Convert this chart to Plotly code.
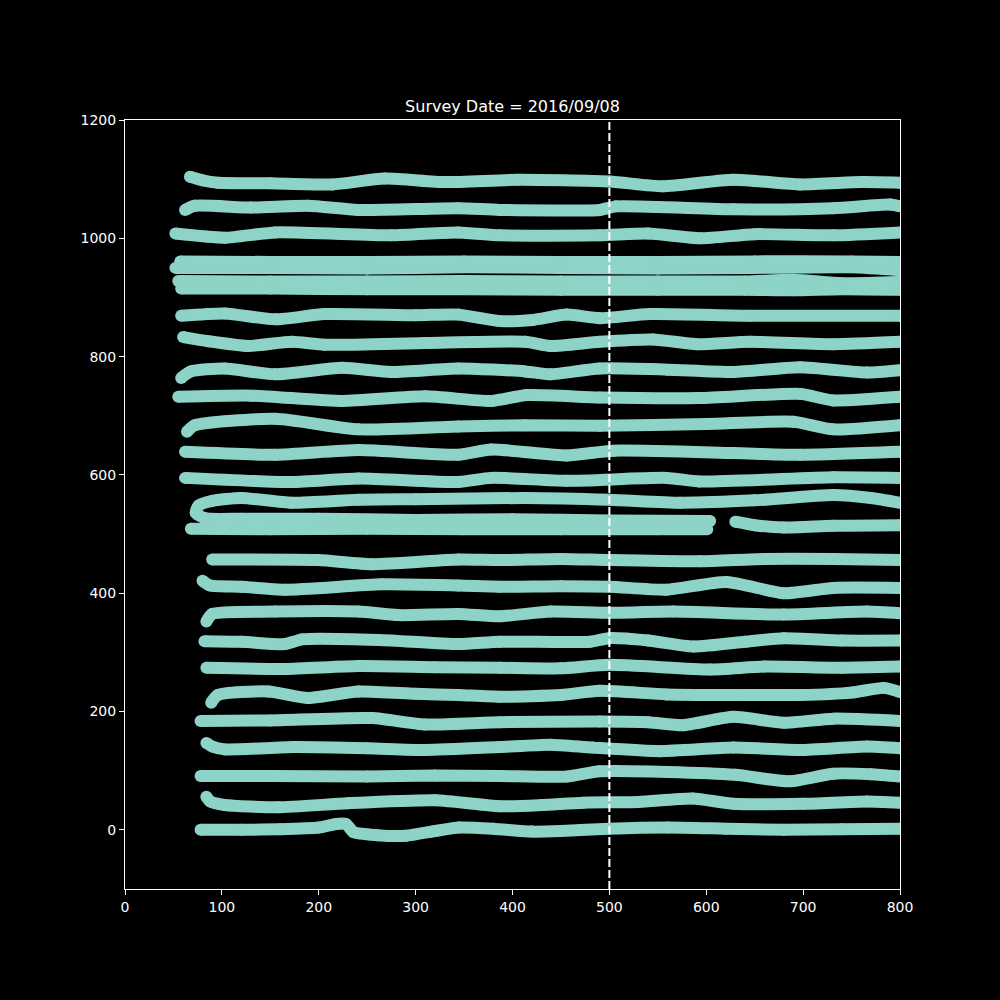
import plotly.graph_objects as go

# survey track waypoints (x, y)
line_00_x = [78, 120, 160, 200, 218, 228, 236, 260, 290, 320, 345, 380, 420, 450, 500, 560, 620, 680, 740, 800]
line_00_y = [0, 0, 1, 4, 10, 10, -4, -9, -10, -2, 4, 2, -3, -2, 2, 4, 2, 0, 1, 2]

line_01_x = [84, 88, 103, 158, 230, 320, 387, 430, 473, 530, 586, 628, 700, 766, 800]
line_01_y = [56, 48, 42, 38, 45, 50, 40, 42, 46, 47, 53, 44, 44, 48, 46]

line_02_x = [78, 150, 250, 320, 387, 456, 490, 560, 630, 686, 731, 770, 800]
line_02_y = [91, 91, 90, 92, 91, 90, 99, 98, 93, 82, 95, 94, 90]

line_03_x = [84, 90, 103, 174, 250, 310, 387, 439, 483, 552, 628, 697, 766, 800]
line_03_y = [147, 141, 136, 140, 138, 135, 140, 144, 139, 133, 139, 135, 141, 138]

line_04_x = [78, 150, 255, 310, 387, 490, 540, 576, 628, 680, 731, 800]
line_04_y = [184, 185, 189, 178, 182, 183, 182, 177, 191, 181, 188, 184]

line_05_x = [89, 96, 148, 189, 241, 300, 344, 387, 450, 490, 559, 630, 697, 750, 783, 800]
line_05_y = [215, 228, 234, 223, 234, 230, 228, 225, 228, 235, 229, 228, 228, 232, 240, 233]

line_06_x = [84, 165, 241, 320, 387, 450, 500, 604, 660, 740, 800]
line_06_y = [274, 272, 277, 275, 274, 273, 279, 271, 276, 274, 276]

line_07_x = [82, 120, 165, 183, 262, 344, 387, 480, 500, 540, 587, 640, 680, 740, 800]
line_07_y = [319, 318, 314, 322, 321, 314, 318, 318, 324, 320, 310, 318, 324, 320, 320]

line_08_x = [84, 90, 155, 241, 282, 344, 387, 439, 500, 566, 680, 766, 800]
line_08_y = [352, 365, 369, 369, 363, 365, 361, 369, 367, 369, 364, 369, 366]

line_09_x = [80, 88, 120, 165, 265, 344, 387, 450, 500, 559, 621, 680, 731, 800]
line_09_y = [421, 413, 411, 406, 415, 413, 411, 412, 411, 406, 419, 400, 409, 409]

line_10_x = [90, 199, 255, 344, 387, 450, 500, 593, 660, 731, 800]
line_10_y = [457, 456, 449, 457, 456, 458, 456, 454, 458, 458, 456]

line_11_x = [68, 150, 250, 350, 450, 550, 601]
line_11_y = [509, 508, 509, 508, 508, 508, 508]

line_12_x = [604, 500, 400, 300, 200, 120, 82, 73, 76, 90, 120, 172, 241, 300, 413, 500, 573, 650, 731, 770, 800]
line_12_y = [522, 523, 525, 524, 526, 526, 527, 536, 548, 556, 561, 553, 558, 559, 561, 558, 553, 557, 566, 561, 553]

line_13_x = [630, 650, 680, 731, 800]
line_13_y = [521, 515, 511, 514, 515]

line_14_x = [62, 172, 241, 344, 378, 456, 559, 593, 731, 800]
line_14_y = [595, 588, 594, 588, 595, 590, 595, 589, 596, 595]

line_15_x = [62, 155, 241, 344, 378, 456, 504, 628, 697, 800]
line_15_y = [639, 634, 642, 634, 643, 633, 641, 637, 634, 639]

line_16_x = [64, 72, 155, 241, 344, 413, 490, 600, 690, 731, 800]
line_16_y = [673, 684, 695, 677, 682, 684, 683, 686, 690, 677, 684]

line_17_x = [55, 131, 224, 310, 378, 415, 490, 593, 697, 731, 800]
line_17_y = [732, 734, 725, 733, 725, 735, 731, 730, 737, 726, 732]

line_18_x = [58, 68, 103, 155, 224, 275, 344, 413, 439, 490, 560, 628, 697, 766, 800]
line_18_y = [764, 775, 780, 770, 781, 774, 780, 775, 770, 780, 778, 774, 782, 773, 777]

line_19_x = [60, 86, 127, 172, 206, 310, 413, 439, 490, 545, 590, 645, 731, 800]
line_19_y = [833, 826, 818, 825, 820, 823, 825, 818, 825, 829, 821, 825, 821, 825]

line_20_x = [58, 103, 155, 206, 300, 344, 387, 421, 456, 490, 542, 645, 800]
line_20_y = [869, 873, 863, 872, 870, 871, 860, 862, 871, 865, 872, 869, 869]

line_21_x = [58, 150, 250, 350, 450, 550, 640, 690, 740, 800]
line_21_y = [915, 915, 914, 914, 913, 913, 913, 912, 914, 913]

line_22_x = [55, 150, 250, 350, 450, 550, 640, 690, 740, 800]
line_22_y = [928, 927, 927, 928, 927, 927, 927, 930, 924, 926]

line_23_x = [52, 150, 250, 350, 450, 550, 650, 750, 800]
line_23_y = [950, 950, 949, 951, 950, 949, 950, 951, 946]

line_24_x = [57, 150, 250, 350, 450, 550, 650, 750, 800]
line_24_y = [961, 960, 960, 961, 960, 960, 961, 961, 960]

line_25_x = [52, 103, 155, 275, 344, 387, 490, 540, 594, 650, 731, 800]
line_25_y = [1008, 1001, 1010, 1005, 1010, 1005, 1005, 1008, 1000, 1007, 1005, 1010]

line_26_x = [62, 72, 130, 189, 241, 344, 387, 490, 507, 628, 731, 790, 800]
line_26_y = [1048, 1055, 1052, 1055, 1048, 1051, 1048, 1048, 1054, 1049, 1051, 1057, 1054]

line_27_x = [67, 80, 96, 150, 214, 268, 330, 405, 500, 555, 628, 697, 760, 800]
line_27_y = [1104, 1098, 1094, 1093, 1091, 1101, 1095, 1099, 1096, 1088, 1099, 1091, 1095, 1094]

tracks = [
    (line_00_x, line_00_y), (line_01_x, line_01_y), (line_02_x, line_02_y),
    (line_03_x, line_03_y), (line_04_x, line_04_y), (line_05_x, line_05_y),
    (line_06_x, line_06_y), (line_07_x, line_07_y), (line_08_x, line_08_y),
    (line_09_x, line_09_y), (line_10_x, line_10_y), (line_11_x, line_11_y),
    (line_12_x, line_12_y), (line_13_x, line_13_y), (line_14_x, line_14_y),
    (line_15_x, line_15_y), (line_16_x, line_16_y), (line_17_x, line_17_y),
    (line_18_x, line_18_y), (line_19_x, line_19_y), (line_20_x, line_20_y),
    (line_21_x, line_21_y), (line_22_x, line_22_y), (line_23_x, line_23_y),
    (line_24_x, line_24_y), (line_25_x, line_25_y), (line_26_x, line_26_y),
    (line_27_x, line_27_y),
]

survey_date = "2016/09/08"
cut_x = 500
x_ticks = [0, 100, 200, 300, 400, 500, 600, 700, 800]
y_ticks = [0, 200, 400, 600, 800, 1000, 1200]

track_color = "#8dd3c7"
font_family = "DejaVu Sans"

fig = go.Figure()
for xs, ys in tracks:
    fig.add_trace(go.Scatter(
        x=xs, y=ys,
        mode="lines+markers",
        line=dict(color=track_color, width=12, shape="spline", smoothing=0.6),
        marker=dict(color=track_color, size=12),
        hoverinfo="skip",
        showlegend=False,
    ))

# dashed marker for the survey cut
fig.add_shape(type="line", x0=cut_x, x1=cut_x, y0=0, y1=1, xref="x", yref="paper",
              line=dict(color="white", width=2, dash="8px,3px"), layer="above")

axis_style = dict(
    showgrid=False, zeroline=False,
    showline=True, linecolor="white", linewidth=1, mirror=True,
    ticks="outside", ticklen=5, tickwidth=1, tickcolor="white",
    tickfont=dict(color="white", size=14, family=font_family),
)

fig.update_xaxes(range=[0, 800], tickvals=x_ticks, **axis_style)
fig.update_yaxes(range=[-100, 1200], tickvals=y_ticks, **axis_style)

# the page adds an 8px body margin, so margins are trimmed to land the axes where they belong
fig.update_layout(
    width=1000, height=1000,
    paper_bgcolor="black", plot_bgcolor="black",
    margin=dict(l=117, r=108, t=112, b=119),
    title=dict(text="Survey Date = " + survey_date, x=0.5045, xanchor="center",
               yref="container", y=0.902, yanchor="middle",
               font=dict(color="white", size=16, family=font_family)),
    font=dict(family=font_family, color="white"),
)

fig.write_html("out.html", post_script="document.body.style.backgroundColor = 'black';")
